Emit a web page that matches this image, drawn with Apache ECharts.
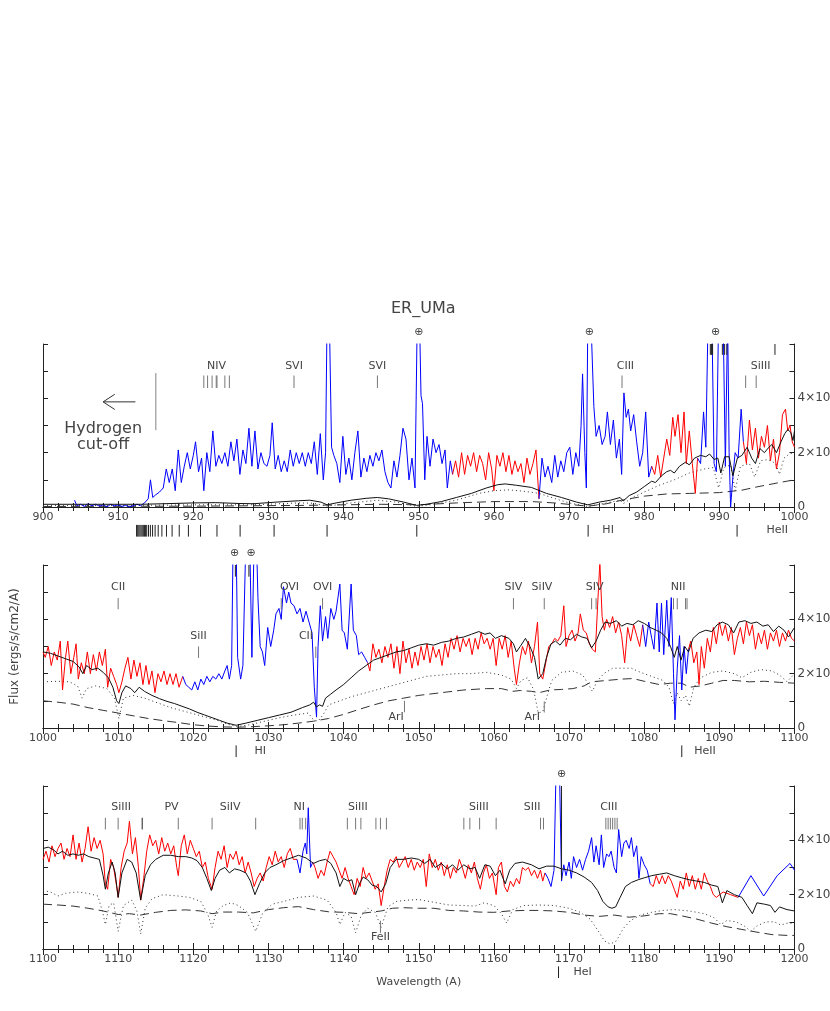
<!DOCTYPE html>
<html>
<head>
<meta charset="utf-8">
<title>ER_UMa</title>
<script src="https://cdn.jsdelivr.net/npm/echarts/dist/echarts.min.js"></script>
<style>
  html, body { margin: 0; padding: 0; background: #fff; }
  #chart { width: 830px; height: 1011px; }
</style>
</head>
<body>
<div id="chart"></div>
<script>
// flux in units of 1e-14 ergs/s/cm2/A, wavelength in A

// ---------- panel 1 : 900-1000 ----------
const topObs = [
  [904.2,0.25],[904.5,0.05],[905,0.1],[905.5,0.02],[906,0.12],[906.5,0.05],[907,0.1],[907.5,0.03],[908,0.08],[908.5,0.0],
  [909,0.1],[909.5,0.04],[910,0.08],[910.5,0.02],[911,0.06],[911.5,0.0],[912,0.05],[912.5,0.1],[913,0.05],[913.5,0.15],
  [914,0.3],[914.3,1.0],[914.6,0.35],[915,0.45],[915.5,0.55],[916,0.7],[916.4,1.4],[916.8,0.9],[917.2,1.4],[917.6,0.6],
  [918,2.1],[918.4,0.9],[918.8,1.5],[919.2,2.0],[919.6,1.4],[920,1.9],[920.3,2.4],[920.7,1.3],[921.1,1.8],[921.4,0.6],
  [921.8,2.0],[922.2,1.3],[922.6,2.8],[923,1.5],[923.4,1.9],[923.8,1.6],[924.2,2.0],[924.6,1.5],[925,2.4],[925.4,1.7],
  [925.8,2.5],[926.2,1.2],[926.6,2.1],[927,1.6],[927.4,2.9],[927.8,1.5],[928.2,2.8],[928.6,1.4],[929,2.0],[929.4,1.6],
  [929.8,1.5],[930.2,1.9],[930.5,3.1],[930.9,1.4],[931.3,1.9],[931.7,1.3],[932.1,1.7],[932.5,1.3],[932.9,2.1],[933.3,1.5],
  [933.7,2.0],[934.1,1.6],[934.5,2.0],[934.9,1.5],[935.3,2.0],[935.7,1.6],[936.1,2.4],[936.5,1.2],[936.9,2.7],[937.3,1.0],
  [937.6,2.0],[937.8,7],[938.1,7],[938.4,2.2],[938.7,1.9],[939.1,1.6],[939.5,0.9],[939.9,2.6],[940.3,1.2],[940.7,1.8],
  [941.1,1.0],[941.5,2.0],[941.9,2.8],[942.3,1.1],[942.7,1.8],[943.1,1.3],[943.5,1.9],[943.9,1.5],[944.3,2.0],[944.7,1.7],
  [945.1,2.1],[945.5,1.3],[945.9,0.9],[946.3,0.7],[946.7,1.7],[947.1,1.1],[947.5,1.9],[947.9,2.9],[948.3,2.5],[948.7,1.0],
  [949.1,1.8],[949.5,0.7],[949.8,7],[950.1,7],[950.3,4.1],[950.5,3.8],[950.8,1.0],[951.1,2.6],[951.5,1.5],[951.9,2.5],
  [952.3,2.0],[952.7,2.3],[953.1,1.6],[953.5,2.1],[953.8,0.7],[954.2,1.7],[954.5,1.2],
  [954.9,1.7],[955.3,1.1],[955.7,2.0],[956.1,1.2],[956.5,1.9],[956.9,1.5],[957.3,2.0],[957.7,1.3],[958.1,1.9],[958.5,1.6],
  [958.9,1.0],[959.3,2.0],[959.7,1.4],[960,0.6],[960.4,1.9],[960.8,1.5],[961.2,2.0],[961.6,1.3],[962,1.9],[962.4,1.2],
  [962.8,1.7],[963.2,1.3],[963.6,1.6],[964,0.9],[964.4,1.8],[964.8,1.2],[965.2,1.6],[965.6,2.1],[966,0.3],
  [966.4,1.8],[966.8,1.1],[967.2,1.5],[967.7,0.9],[968.1,1.9],[968.5,1.1],[968.9,1.7],[969.3,1.3],[969.7,2.0],[970.1,2.2],
  [970.5,1.2],[970.9,2.0],[971.3,1.5],[971.6,3.0],[971.8,4.9],[972.1,2.0],[972.3,0.7],[972.5,7],[972.9,7],[973.3,3.7],
  [973.6,2.6],[974,3.0],[974.4,2.3],[974.8,2.6],[975.1,3.5],[975.5,2.3],[975.9,3.2],[976.3,1.8],[976.7,2.5],[977,1.2],
  [977.3,4.2],[977.6,3.3],[977.9,3.6],[978.2,2.8],[978.6,3.4],[979,2.4],[979.4,1.5],[979.8,2.0],[980.2,3.5],[980.6,1.1],
  [981,1.5],[981.4,1.2],[981.8,1.9],[982.2,1.1],[982.6,1.8],[983,2.5],[983.4,1.9],[983.8,3.3],[984.1,2.6],[984.5,3.4],
  [984.9,2.0],[985.3,3.5],[985.6,1.6],[986,2.8],[986.4,1.6],[986.8,0.5],[987.1,1.8],
  [987.5,1.6],[987.9,3.5],[988.2,2.2],[988.5,7],[989,7],[989.3,1.6],[989.6,1.3],[989.9,7],[990.5,7],[990.8,1.5],
  [991.1,7],[991.3,2.0],[991.5,0],[991.8,1.1],[992.1,2.0],[992.5,1.8],[992.9,3.6],[993.2,2.4],
  [993.6,1.6],[994,3.2],[994.4,2.1],[994.8,2.9],[995.2,1.8],[995.6,2.6],[996,2.2],[996.4,3.0],[996.8,1.7],[997.2,2.5],
  [997.6,1.4],[998,2.0],[998.4,3.4],[998.8,3.6],[999.1,2.8],[999.4,3.0],[999.7,2.4],[1000,2.2]
];
const topBlueRanges = [[900, 954.5], [966, 981], [987.1, 993.2]];
const topModel = [
  [900,0.1],[905,0.1],[910,0.1],[913,0.1],[916,0.12],[920,0.15],[923,0.16],[926,0.13],[928,0.12],[931,0.18],
  [934,0.23],[935.5,0.25],[937,0.18],[937.8,0.08],[939,0.15],[941,0.25],[943,0.32],[944.5,0.35],[946,0.3],[948,0.18],
  [949.7,0.06],[951,0.1],[953,0.2],[955,0.35],[957,0.5],[959,0.7],[960.5,0.82],[961.5,0.85],[963,0.8],[965,0.72],
  [967,0.5],[969,0.35],[971,0.18],[972.5,0.08],[974,0.18],[975.5,0.25],[976.8,0.35],[977.2,0.22],[978,0.42],[979,0.55],
  [980,0.75],[981,0.95],[981.5,0.9],[982.3,1.15],[983,1.3],[983.5,1.35],[984,1.25],[984.7,1.5],[985.5,1.65],[986,1.55],
  [986.7,1.8],[987.5,1.9],[988.2,1.85],[988.7,1.95],[989.3,1.75],[989.8,1.8],[990.2,1.25],[990.7,1.85],[991.3,1.85],[991.8,1.15],
  [992.4,1.8],[993,1.9],[993.7,2.2],[994.3,1.8],[994.8,1.6],[995.4,2.15],[996,2.0],[996.6,2.2],[997,2.3],[997.6,2.0],
  [998.2,2.4],[998.7,2.7],[999.1,2.85],[999.5,2.75],[999.8,2.45],[1000,2.8]
];
const topDotted = [
  [900,0.05],[910,0.05],[920,0.08],[928,0.08],[934,0.15],[936,0.14],[937.8,0.03],[941,0.15],[944.5,0.25],[947,0.18],
  [949.7,0.02],[952,0.1],[955,0.25],[958,0.5],[960,0.6],[962,0.63],[964,0.58],[966,0.5],[968,0.32],[970,0.15],
  [972.5,0.02],[975,0.15],[976.8,0.25],[977.2,0.12],[978.5,0.35],[980,0.55],[982,0.8],[984,1.0],[986,1.25],[988,1.4],
  [989.2,1.45],[989.9,0.7],[990.6,1.45],[991.5,1.55],[992.1,0.6],[992.8,1.5],[994,1.6],[994.7,1.1],[995.5,1.7],[996.5,1.75],
  [997.5,1.6],[998,1.2],[998.6,1.8],[999.3,1.95],[1000,2.0]
];
const topDashed = [
  [900,0.02],[920,0.03],[935,0.06],[945,0.1],[950,0.08],[955,0.15],[960,0.2],[965,0.2],[968,0.15],[972.5,0.03],
  [975,0.12],[977,0.25],[980,0.4],[983,0.48],[986,0.5],[990,0.53],[993,0.62],[995,0.74],[998,0.9],[1000,1.0]
];
const topIdTicks = [
  [921.4,4.38,4.84],[921.9,4.38,4.84],[922.5,4.38,4.84],[923.05,4.38,4.84],[923.15,4.38,4.84],[924.2,4.38,4.84],[924.8,4.38,4.84],
  [933.4,4.38,4.84],[944.5,4.38,4.84],[977.05,4.38,4.84],[993.5,4.38,4.84],[994.9,4.38,4.84]
];
const topMarkTicks = [
  [988.8,6,5.6],[988.95,6,5.6],[989.1,6,5.6],[990.4,6,5.6],[990.7,6,5.6],[991.0,6,5.6],[997.4,6,5.6],
  [912.45,-0.66,-1.09],[912.6,-0.66,-1.09],[912.75,-0.66,-1.09],[912.9,-0.66,-1.09],[913.05,-0.66,-1.09],[913.2,-0.66,-1.09],
  [913.35,-0.66,-1.09],[913.5,-0.66,-1.09],[913.65,-0.66,-1.09],[913.8,-0.66,-1.09],[914.04,-0.66,-1.09],[914.29,-0.66,-1.09],
  [914.58,-0.66,-1.09],[914.92,-0.66,-1.09],[915.33,-0.66,-1.09],[915.82,-0.66,-1.09],[916.43,-0.66,-1.09],[917.18,-0.66,-1.09],
  [918.13,-0.66,-1.09],[919.35,-0.66,-1.09],[920.96,-0.66,-1.09],[923.15,-0.66,-1.09],[926.23,-0.66,-1.09],[930.75,-0.66,-1.09],
  [937.8,-0.66,-1.09],[949.74,-0.66,-1.09],[972.54,-0.66,-1.09],[992.36,-0.66,-1.09]
];
const topArrow = [[912.3,3.87,908.0,3.87],[908.0,3.87,909.55,4.15],[908.0,3.87,909.55,3.59]];
const topCutoff = [[915.0,2.83,4.93]];
const topLabels = [
  [923.1,5.2,'NIV'],[933.4,5.2,'SVI'],[944.5,5.2,'SVI'],[977.5,5.2,'CIII'],[995.5,5.2,'SiIII'],
  [950.0,6.43,'⊕'],[972.7,6.43,'⊕'],[989.5,6.43,'⊕'],
  [975.2,-0.87,'HI'],[997.7,-0.87,'HeII']
];
const topBigLabels = [[908.0,2.87,'Hydrogen'],[908.0,2.28,'cut-off']];

// ---------- panel 2 : 1000-1100 ----------
const midObs = [
  [1000,2.8],[1000.3,2.6],[1000.7,3.0],[1001.1,2.3],[1001.5,2.8],[1001.9,2.5],[1002.3,3.2],[1002.6,1.4],[1003,2.6],[1003.3,3.2],
  [1003.7,2.0],[1004.1,2.6],[1004.4,3.1],[1004.7,1.8],[1005.1,2.4],[1005.5,2.0],[1005.9,2.8],[1006.3,2.0],[1006.7,2.7],[1007.1,2.1],
  [1007.5,2.8],[1007.9,2.3],[1008.3,2.9],[1008.6,1.5],[1009,2.2],[1009.4,1.9],[1009.8,1.6],[1010.1,1.3],[1010.5,1.7],[1010.9,2.2],
  [1011.3,2.6],[1011.7,1.8],[1012.1,2.5],[1012.5,1.9],[1012.9,2.4],[1013.3,1.6],[1013.7,2.3],[1014.1,1.6],[1014.5,2.1],[1014.9,1.3],
  [1015.3,2.0],[1015.7,1.7],[1016.1,2.1],[1016.5,1.6],[1016.9,2.0],[1017.3,1.6],[1017.7,2.0],[1018.1,1.5],[1018.6,1.9],
  [1019,1.6],[1019.4,1.5],[1019.8,1.4],[1020.2,1.7],[1020.6,1.4],[1021,1.8],[1021.4,1.6],[1021.8,1.9],[1022.2,1.7],[1022.6,1.9],
  [1023,1.8],[1023.4,2.0],[1023.8,1.8],[1024.2,2.1],[1024.5,2.3],[1024.8,1.8],[1025.1,2.3],[1025.3,7],[1025.7,7],[1025.9,2.6],
  [1026.3,1.8],[1026.6,2.3],[1027,7],[1027.5,7],[1027.8,2.6],[1028.1,7],[1028.4,7],[1028.6,4.8],[1028.9,3.0],[1029.2,2.8],
  [1029.5,2.3],[1029.9,3.7],[1030.3,3.0],[1030.7,3.6],[1031,4.2],[1031.4,4.4],[1031.7,4.0],[1032,5.2],[1032.4,4.6],[1032.7,5.0],
  [1033,4.6],[1033.4,4.5],[1033.8,4.2],[1034.2,4.4],[1034.6,3.9],[1035,4.3],[1035.4,3.9],[1035.8,3.5],[1036.1,1.5],[1036.4,0.4],
  [1036.6,3.0],[1036.9,4.5],[1037.2,3.2],[1037.6,4.1],[1037.9,3.3],[1038.3,4.4],[1038.7,4.0],[1039,4.3],[1039.5,5.3],[1039.8,3.6],
  [1040.1,3.5],[1040.5,2.9],[1041,5.3],[1041.3,3.6],[1041.7,3.4],[1042,2.7],[1042.4,2.8],[1042.8,2.6],[1043.2,2.4],
  [1043.5,2.1],[1043.9,3.1],[1044.3,2.6],[1044.7,2.9],[1045.1,2.4],[1045.5,3.0],[1045.9,2.6],[1046.3,3.1],[1046.7,2.2],[1047.1,3.0],
  [1047.5,2.0],[1047.9,3.2],[1048.3,2.4],[1048.7,2.9],[1049.1,2.2],[1049.5,2.8],[1049.9,2.3],[1050.3,3.0],[1050.7,2.5],[1051.1,3.1],
  [1051.5,2.4],[1051.9,3.0],[1052.3,2.6],[1052.7,2.9],[1053.1,2.3],[1053.5,3.1],[1053.9,2.6],[1054.3,3.3],[1054.7,2.9],[1055.1,3.4],
  [1055.5,2.8],[1055.9,3.3],[1056.3,3.0],[1056.7,3.3],[1057.1,2.7],[1057.5,3.3],[1057.9,2.9],[1058.3,3.5],[1058.7,3.1],[1059.1,3.3],
  [1059.5,2.9],[1059.9,3.3],[1060.3,2.3],[1060.7,3.3],[1061.1,2.9],[1061.5,3.4],[1061.9,2.6],[1062.3,3.2],[1062.7,2.2],[1063,1.6],
  [1063.4,2.4],[1063.8,3.0],[1064.2,2.7],[1064.6,3.2],[1065,2.4],[1065.4,3.0],[1065.8,3.9],[1066.1,2.0],[1066.5,1.8],[1066.9,2.4],
  [1067.3,3.0],[1067.7,3.1],[1068.1,3.3],[1068.5,3.2],[1068.9,3.4],[1069.3,4.5],[1069.6,3.0],[1070,3.4],[1070.4,3.6],[1070.8,3.2],
  [1071.2,3.5],[1071.5,4.2],[1071.9,3.6],[1072.3,3.5],[1072.7,3.1],[1073.1,2.9],[1073.5,2.8],[1073.8,4.5],[1074.1,6.1],[1074.4,4.1],
  [1074.7,3.6],[1075,4.0],[1075.4,3.7],[1075.8,4.1],[1076.2,3.5],[1076.6,3.9],[1077,3.4],[1077.4,2.4],[1077.8,3.7],[1078.2,3.2],
  [1078.6,3.8],[1079,3.4],[1079.4,3.0],[1079.8,3.8],
  [1080.2,3.0],[1080.6,3.9],[1081,3.3],[1081.3,2.9],[1081.7,4.6],[1082,2.8],[1082.3,4.6],[1082.6,2.7],[1083,4.7],[1083.3,3.0],
  [1083.6,4.8],[1083.9,2.0],[1084.1,0.3],[1084.4,2.2],[1084.7,3.4],[1085,1.4],[1085.3,3.0],[1085.6,2.0],[1085.9,2.9],
  [1086.2,3.2],[1086.6,2.4],[1087,2.8],[1087.3,1.6],[1087.6,3.0],[1088,2.2],[1088.4,3.3],[1088.8,2.8],[1089.2,3.7],[1089.6,3.1],
  [1090,3.9],[1090.4,3.4],[1090.8,3.8],[1091.2,3.2],[1091.6,3.7],[1092,2.7],[1092.4,3.3],[1092.8,3.7],[1093.2,3.1],[1093.6,3.9],
  [1094,3.4],[1094.4,3.8],[1094.8,2.9],[1095.2,3.5],[1095.6,3.1],[1096,3.6],[1096.4,2.9],[1096.8,3.5],[1097.2,3.2],[1097.6,3.6],
  [1098,3.0],[1098.4,3.5],[1098.8,3.2],[1099.2,3.6],[1099.6,3.3],[1100,3.2]
];
const midBlueRanges = [[1018.6, 1043.2], [1079.8, 1085.9]];
const midModel = [
  [1000,2.8],[1001,2.75],[1002,2.65],[1003,2.55],[1004,2.45],[1004.8,2.25],[1005.3,2.0],[1005.8,2.3],[1006.5,2.15],[1007.3,2.2],
  [1008,2.05],[1008.7,1.85],[1009.3,1.5],[1009.8,1.0],[1010.1,0.9],[1010.5,1.3],[1011,1.55],[1011.7,1.45],[1012.2,1.3],[1012.8,1.5],
  [1013.5,1.35],[1014.5,1.2],[1015.5,1.08],[1016.5,0.98],[1017.5,0.9],[1018.5,0.8],[1019.5,0.7],[1020.5,0.58],[1021.5,0.48],[1022.5,0.38],
  [1023.5,0.28],[1024.5,0.18],[1025.7,0.1],[1027,0.18],[1028.5,0.28],[1030,0.38],[1031.5,0.48],[1033,0.58],[1034.5,0.75],[1035.5,0.85],
  [1036,0.95],[1036.4,0.78],[1036.8,0.85],[1037.2,0.8],[1037.6,1.1],[1038.3,1.25],[1039,1.4],[1040,1.6],[1041,1.85],[1042,2.1],
  [1043,2.3],[1044,2.5],[1045,2.6],[1046,2.7],[1047,2.8],[1048,2.85],[1049,2.95],[1050,3.05],[1051,3.1],[1052,3.05],
  [1053,3.15],[1054,3.2],[1055,3.3],[1056,3.35],[1057,3.45],[1058,3.55],[1058.8,3.45],[1059.5,3.5],[1060.2,3.3],[1061,3.4],
  [1062,3.3],[1062.6,3.1],[1063,2.8],[1063.5,3.0],[1064.2,3.3],[1064.8,3.0],[1065.4,2.6],[1065.9,1.8],[1066.5,2.0],[1067,2.6],
  [1067.6,3.1],[1068.2,3.2],[1068.8,3.05],[1069.5,3.3],[1070.2,3.25],[1071,3.45],[1071.7,3.35],[1072.4,3.3],[1073,2.95],[1073.6,3.2],
  [1074.2,3.6],[1074.8,3.9],[1075.5,3.85],[1076.3,3.95],[1077,3.75],[1077.7,3.85],[1078.5,3.8],[1079.2,3.95],[1080,3.85],[1080.8,3.7],
  [1081.6,3.6],[1082.3,3.5],[1083,3.3],[1083.5,3.0],[1084,2.6],[1084.4,3.0],[1084.9,2.5],[1085.4,3.0],[1085.9,2.8],[1086.5,3.3],
  [1087.3,3.5],[1088.2,3.6],[1089,3.55],[1089.7,3.8],[1090.4,3.9],[1091.2,3.8],[1091.9,3.5],[1092.6,3.9],[1093.4,3.95],[1094.2,3.85],
  [1095,3.9],[1095.8,3.75],[1096.5,3.8],[1097.2,3.55],[1097.9,3.75],[1098.6,3.6],[1099.2,3.35],[1100,3.7]
];
const midDotted = [
  [1000,1.7],[1002,1.72],[1003.5,1.7],[1004.6,1.55],[1005.2,1.1],[1005.8,1.45],[1007,1.55],[1008.5,1.45],[1009.5,1.1],[1010.1,0.35],
  [1010.7,1.1],[1012,1.2],[1013.5,1.1],[1015,0.95],[1017,0.75],[1019,0.6],[1021,0.45],[1023,0.3],[1024.5,0.15],[1025.8,0.05],
  [1027.5,0.12],[1029.5,0.25],[1031.5,0.38],[1033.5,0.48],[1035.3,0.55],[1036,0.3],[1036.6,0.25],[1037.3,0.5],[1038,0.85],[1039.5,1.0],
  [1041,1.15],[1043,1.3],[1045,1.45],[1047,1.6],[1049,1.75],[1051,1.9],[1053,1.95],[1055,2.0],[1057,2.0],[1059,2.05],
  [1061,1.95],[1062.3,1.8],[1063,1.45],[1063.6,1.75],[1064.5,1.85],[1065.3,1.4],[1065.9,0.55],[1066.5,0.6],[1067.1,1.2],[1067.7,1.75],
  [1069,2.05],[1070.5,2.1],[1071.8,1.95],[1072.6,1.6],[1073.1,1.35],[1073.7,1.7],[1074.6,2.0],[1075.8,2.2],[1077,2.2],[1078.3,2.2],
  [1079.5,2.05],[1081,1.9],[1082.5,1.75],[1083.3,1.5],[1083.9,0.9],[1084.4,1.3],[1084.9,1.0],[1085.5,1.2],[1086,0.8],[1086.6,1.5],
  [1087.5,1.85],[1089,2.05],[1090.5,2.1],[1092,2.0],[1093,1.85],[1094.2,2.05],[1095.5,2.15],[1097,2.1],[1098,1.95],[1099,1.7],
  [1099.5,1.85],[1100,2.0]
];
const midDashed = [
  [1000,1.0],[1002,0.95],[1004,0.88],[1006,0.75],[1008,0.65],[1010,0.55],[1012,0.45],[1014,0.35],[1016,0.27],[1018,0.2],
  [1020,0.12],[1022,0.07],[1024,0.04],[1026,0.03],[1028,0.05],[1030,0.08],[1032,0.12],[1034,0.18],[1036,0.25],[1038,0.35],
  [1040,0.5],[1042,0.68],[1044,0.85],[1046,1.0],[1048,1.1],[1050,1.2],[1053,1.3],[1056,1.4],[1059,1.45],[1061,1.45],
  [1062.5,1.35],[1063.5,1.38],[1065,1.35],[1066,1.3],[1067.5,1.4],[1069,1.42],[1070.5,1.45],[1072,1.55],[1073,1.7],[1075,1.75],
  [1077,1.8],[1078.5,1.82],[1080,1.72],[1082,1.6],[1083.5,1.65],[1085,1.65],[1086,1.5],[1087.5,1.55],[1089,1.65],[1090.5,1.75],
  [1092,1.75],[1094,1.7],[1096,1.72],[1098,1.68],[1100,1.65]
];
const midIdTicks = [
  [1010.0,4.37,4.78],[1031.7,4.37,4.78],[1037.2,4.37,4.78],[1062.6,4.37,4.78],[1066.7,4.37,4.78],
  [1073.0,4.37,4.78],[1073.6,4.37,4.78],[1083.9,4.37,4.78],[1084.4,4.37,4.78],[1085.5,4.37,4.78],[1085.7,4.37,4.78],
  [1020.7,2.58,3.0],[1036.3,2.58,3.0],
  [1048.1,0.58,1.0],[1066.7,0.57,0.98]
];
const midMarkTicks = [
  [1025.6,6,5.57],[1027.4,6,5.57],
  [1025.7,-0.64,-1.07],[1085.0,-0.64,-1.07]
];
const midLabels = [
  [1010.0,5.19,'CII'],[1020.7,3.39,'SiII'],[1032.8,5.19,'OVI'],[1037.2,5.19,'OVI'],[1035.0,3.39,'CII'],
  [1047.0,0.4,'ArI'],[1065.1,0.4,'ArI'],[1062.6,5.19,'SIV'],[1066.4,5.19,'SiIV'],[1073.4,5.19,'SIV'],[1084.5,5.19,'NII'],
  [1025.5,6.43,'⊕'],[1027.7,6.43,'⊕'],
  [1028.9,-0.87,'HI'],[1088.1,-0.87,'HeII']
];

// ---------- panel 3 : 1100-1200 ----------
const botObs = [
  [1100,3.3],[1100.4,3.6],[1100.8,3.2],[1101.2,3.8],[1101.6,3.4],[1102,3.7],[1102.4,3.9],[1102.8,3.3],[1103.2,3.7],[1103.6,3.4],
  [1104,4.2],[1104.4,3.3],[1104.8,3.9],[1105.2,3.2],[1105.6,3.7],[1106,4.5],[1106.4,3.6],[1106.8,4.1],[1107.2,3.7],[1107.6,4.0],
  [1108,3.5],[1108.3,2.4],[1108.6,2.2],[1109,3.3],[1109.4,3.0],[1109.8,2.3],[1110,1.9],[1110.4,3.0],[1110.8,3.6],[1111.2,3.9],
  [1111.5,4.7],[1111.9,3.5],[1112.3,4.1],[1112.7,3.0],[1113,1.8],[1113.4,2.6],[1113.8,3.6],[1114.2,4.2],[1114.6,3.8],[1115,4.0],
  [1115.4,3.5],[1115.8,4.1],[1116.2,3.6],[1116.6,3.9],[1117,3.5],[1117.4,3.8],[1117.8,3.0],[1118,2.7],[1118.4,3.8],[1118.8,4.2],
  [1119.2,3.5],[1119.6,4.0],[1120,3.7],[1120.4,3.4],[1120.8,3.6],[1121.2,3.0],[1121.6,3.2],[1122,2.6],[1122.5,2.2],[1122.9,3.0],
  [1123.3,3.6],[1123.7,3.3],[1124.1,3.8],[1124.5,3.0],[1124.9,3.5],[1125.3,3.3],[1125.7,3.6],[1126.1,3.1],[1126.5,3.4],[1126.9,2.8],
  [1127.3,3.2],[1127.7,2.8],[1128.1,2.3],[1128.5,2.6],[1128.9,2.8],[1129.3,2.5],[1129.7,3.0],[1130.1,3.4],[1130.5,3.1],[1130.9,3.6],
  [1131.3,3.2],[1131.7,3.4],[1132.1,3.0],[1132.5,3.5],[1132.9,3.7],[1133.3,3.3],[1133.8,3.3],
  [1134.2,2.8],[1134.6,3.6],[1134.9,3.9],[1135.1,3.5],[1135.3,5.2],[1135.6,3.0],[1135.9,3.2],
  [1136.2,3.0],[1136.6,2.6],[1137,2.9],[1137.4,2.7],[1137.8,3.2],[1138.2,3.6],[1138.6,3.4],[1139,3.2],[1139.4,2.9],[1139.8,2.6],
  [1140.2,3.0],[1140.6,2.6],[1141,2.3],[1141.4,2.0],[1141.8,2.6],[1142.2,2.3],[1142.6,3.0],[1143,2.6],[1143.4,2.8],[1143.8,2.5],
  [1144.2,2.2],[1144.6,2.4],[1145,1.6],[1145.4,2.3],[1145.8,2.9],[1146.2,3.3],[1146.6,3.2],[1147,3.4],[1147.4,3.0],[1147.8,3.2],
  [1148.2,3.4],[1148.6,3.0],[1149,3.3],[1149.4,2.9],[1149.8,3.2],[1150.2,3.0],[1150.6,3.3],[1151,2.3],[1151.4,3.5],[1151.8,3.0],
  [1152.2,3.3],[1152.6,2.9],[1153,3.2],[1153.4,2.7],[1153.8,3.1],[1154.2,2.6],[1154.6,3.0],[1155,2.8],[1155.4,3.3],[1155.8,3.0],
  [1156.2,2.6],[1156.6,3.1],[1157,2.8],[1157.4,3.2],[1157.8,2.6],[1158.2,2.2],[1158.6,2.8],[1159,3.1],[1159.4,2.6],[1159.8,2.8],
  [1160.3,2.0],[1160.6,3.0],[1161,3.2],[1161.4,2.3],[1161.8,2.1],[1162.2,2.5],[1162.6,2.3],[1163,2.6],[1163.4,2.4],[1163.8,3.0],
  [1164.2,2.9],[1164.6,3.0],[1165,2.7],[1165.4,2.9],[1165.8,2.6],[1166.2,2.9],[1166.5,2.5],[1166.8,2.8],
  [1167.2,2.6],[1167.6,2.3],[1168,2.9],[1168.3,7],[1168.7,7],[1169,2.5],[1169.3,3.1],[1169.6,2.7],[1170,3.2],[1170.3,2.6],
  [1170.6,3.4],[1171,3.0],[1171.4,3.3],[1171.8,2.9],[1172.2,3.3],[1172.6,3.6],[1173,4.1],[1173.3,3.2],[1173.6,3.8],[1174,3.1],
  [1174.3,4.2],[1174.6,3.0],[1175,3.5],[1175.3,3.4],[1175.6,3.6],[1176,3.0],[1176.3,2.8],[1176.6,4.4],[1177,3.4],[1177.3,3.9],
  [1177.6,4.0],[1178,3.7],[1178.3,4.1],[1178.6,3.4],[1179,3.8],[1179.3,2.6],[1179.6,3.4],[1180,3.1],[1180.4,2.9],[1180.8,2.4],
  [1181.2,2.3],[1181.6,2.7],[1182,2.4],[1182.4,2.7],[1182.8,2.4],[1183.2,2.7],[1183.6,2.5],[1184,2.2],[1184.4,1.9],[1184.8,2.5],
  [1185.2,2.2],[1185.6,2.8],[1186,2.3],[1186.4,2.7],[1186.8,2.2],[1187.2,2.6],[1187.6,2.2],[1188,2.8],[1188.4,2.5],[1188.8,2.3],
  [1189.2,2.0],[1189.6,1.9],[1190.5,2.1],[1191.5,2.0],[1192.5,1.9],
  [1194.2,2.7],[1195.9,1.95],[1197.7,2.7],[1199.4,3.15],[1200,2.9]
];
const botBlueRanges = [[1133.8, 1135.9], [1166.8, 1180.8], [1192.5, 1200]];
const botModel = [
  [1100,3.7],[1100.7,3.75],[1101.4,3.65],[1102,3.5],[1102.6,3.6],[1103.3,3.45],[1104,3.5],[1104.7,3.45],[1105.4,3.5],[1106.1,3.4],
  [1106.8,3.35],[1107.5,3.3],[1108,2.7],[1108.3,2.2],[1108.7,2.8],[1109.2,3.2],[1109.6,2.8],[1110,1.9],[1110.5,2.8],[1111.2,3.3],
  [1111.8,3.2],[1112.4,2.8],[1113,1.8],[1113.6,2.7],[1114.3,3.1],[1115,3.3],[1116,3.45],[1117,3.45],[1118,3.4],[1119,3.4],
  [1119.8,3.35],[1120.5,3.25],[1121.2,3.0],[1121.8,2.6],[1122.4,2.15],[1122.9,2.6],[1123.5,2.9],[1124.2,3.0],[1124.8,2.8],[1125.5,2.95],
  [1126.2,2.9],[1127,2.8],[1127.6,2.5],[1128.2,2.0],[1128.8,2.4],[1129.5,2.8],[1130.2,3.0],[1131,3.1],[1132,3.25],[1133,3.35],
  [1134,3.45],[1135,3.35],[1136,3.15],[1136.8,3.25],[1137.6,3.3],[1138.3,3.15],[1139,2.8],[1139.5,2.3],[1140,2.6],[1140.6,2.5],
  [1141.1,2.55],[1141.6,2.0],[1142.1,2.4],[1142.6,2.65],[1143.2,2.55],[1143.8,2.35],[1144.4,2.3],[1145,2.1],[1145.6,2.4],[1146.2,3.0],
  [1147,3.3],[1148,3.3],[1149,3.35],[1150,3.3],[1150.8,3.15],[1151.5,3.3],[1152.2,3.0],[1153,3.15],[1153.8,2.95],[1154.5,3.1],
  [1155.2,2.9],[1156,3.1],[1156.8,2.95],[1157.5,3.0],[1158.1,2.6],[1158.8,3.1],[1159.5,3.05],[1160.2,2.7],[1160.8,2.9],[1161.5,2.4],
  [1162.1,2.9],[1162.8,3.15],[1163.8,3.2],[1165,3.1],[1166,2.95],[1167,3.05],[1168,3.05],[1169,2.95],[1170,2.9],[1171,2.8],
  [1172,2.65],[1173,2.45],[1173.8,2.15],[1174.5,1.75],[1175.2,1.55],[1175.7,1.5],[1176.2,1.55],[1176.8,1.9],[1177.5,2.3],[1178.3,2.45],
  [1179.2,2.55],[1180,2.62],[1181,2.7],[1182,2.75],[1183,2.8],[1184,2.7],[1185,2.62],[1186,2.55],[1187,2.5],[1188,2.45],
  [1189,2.35],[1189.8,2.3],[1190.4,1.7],[1191,2.15],[1192,2.0],[1193,1.9],[1193.7,1.6],[1194.4,1.3],[1195,1.7],[1196,1.65],
  [1196.8,1.6],[1197.4,1.35],[1198,1.55],[1199,1.45],[1200,1.4]
];
const botDotted = [
  [1100,2.15],[1101,2.1],[1102,1.95],[1103,2.05],[1104.5,2.1],[1106,2.05],[1107.3,1.95],[1107.9,1.4],[1108.3,0.9],[1108.8,1.6],
  [1109.4,1.7],[1110,0.65],[1110.7,1.6],[1111.8,1.8],[1112.5,1.4],[1113,0.55],[1113.6,1.5],[1114.5,1.85],[1116,2.0],[1118,1.95],
  [1119.5,1.9],[1121,1.75],[1121.9,1.3],[1122.5,0.8],[1123.1,1.4],[1124,1.6],[1125,1.7],[1126,1.6],[1127.2,1.35],[1128.3,0.65],
  [1129.2,1.3],[1130.5,1.65],[1132,1.75],[1134,1.9],[1136,1.95],[1137.8,1.8],[1139,1.35],[1139.5,0.9],[1140.2,1.35],[1141,1.2],
  [1141.6,0.6],[1142.3,1.2],[1143.2,1.5],[1144.2,1.35],[1145,0.8],[1145.9,1.55],[1147,1.75],[1148.5,1.8],[1150,1.82],[1152,1.72],
  [1154,1.62],[1156,1.6],[1157.5,1.58],[1158.7,1.7],[1160,1.6],[1161,1.3],[1161.7,0.95],[1162.5,1.45],[1164,1.6],[1166,1.62],
  [1168,1.6],[1170,1.5],[1171.5,1.35],[1172.8,1.1],[1173.8,0.7],[1174.7,0.3],[1175.5,0.18],[1176.3,0.3],[1177.2,0.75],[1178.2,1.05],
  [1179.5,1.25],[1181,1.35],[1182.5,1.42],[1184,1.45],[1186,1.4],[1188,1.3],[1189.3,1.15],[1190.2,0.9],[1191,1.05],[1192.2,1.0],
  [1193.3,0.85],[1194.2,0.65],[1195,0.85],[1196.2,1.0],[1197.3,1.0],[1198.2,0.88],[1199,0.95],[1200,0.95]
];
const botDashed = [
  [1100,1.65],[1102,1.62],[1104,1.58],[1106,1.5],[1108,1.4],[1110,1.27],[1111.5,1.3],[1113,1.25],[1115,1.35],[1117,1.42],
  [1119,1.44],[1121,1.4],[1122.5,1.3],[1124,1.36],[1126,1.36],[1128,1.33],[1130,1.45],[1132,1.52],[1134,1.56],[1136,1.45],
  [1138,1.37],[1140,1.35],[1142,1.3],[1143.5,1.35],[1145,1.4],[1146.5,1.5],[1148,1.52],[1150,1.5],[1152,1.5],[1154,1.42],
  [1156,1.4],[1158,1.36],[1160,1.35],[1162,1.4],[1164,1.42],[1166,1.42],[1168,1.4],[1170,1.35],[1172,1.25],[1174,1.2],
  [1176,1.25],[1178,1.17],[1180,1.22],[1182,1.3],[1183.5,1.3],[1185,1.22],[1187,1.1],[1189,0.95],[1191,0.82],[1193,0.72],
  [1195,0.62],[1197,0.53],[1199,0.5],[1200,0.5]
];
const botIdTicks = [
  [1108.3,4.4,4.83],[1110.0,4.4,4.83],[1118.0,4.4,4.83],[1122.5,4.4,4.83],[1128.3,4.4,4.83],
  [1134.2,4.4,4.83],[1134.5,4.4,4.83],[1134.95,4.4,4.83],[1140.5,4.4,4.83],[1141.6,4.4,4.83],[1142.3,4.4,4.83],
  [1144.3,4.4,4.83],[1144.9,4.4,4.83],[1145.7,4.4,4.83],[1156.0,4.4,4.83],[1156.8,4.4,4.83],[1158.1,4.4,4.83],[1160.3,4.4,4.83],
  [1166.2,4.4,4.83],[1166.6,4.4,4.83],[1174.9,4.4,4.83],[1175.2,4.4,4.83],[1175.5,4.4,4.83],[1175.8,4.4,4.83],[1176.1,4.4,4.83],[1176.4,4.4,4.83],
  [1144.9,0.59,1.04]
];
const botMarkTicks = [
  [1113.2,4.4,4.83],[1169.0,6,2.55],
  [1168.6,-0.64,-1.07]
];
const botLabels = [
  [1110.4,5.23,'SiIII'],[1117.1,5.23,'PV'],[1124.9,5.23,'SiIV'],[1134.1,5.23,'NI'],[1141.9,5.23,'SiIII'],
  [1158.0,5.23,'SiIII'],[1165.1,5.23,'SIII'],[1175.3,5.23,'CIII'],[1144.9,0.42,'FeII'],
  [1169.0,6.43,'⊕'],
  [1171.8,-0.87,'HeI']
];

const xRanges = [[900, 1000], [1000, 1100], [1100, 1200]];
const yTicks = [0, 2, 4];

// ---------- build ----------
const FONT = '"DejaVu Sans", sans-serif';
const TXT = '#444';
const RED = '#ff0000';
const BLUE = '#0000ff';
const gridTops = [344, 565, 786];

const chart = echarts.init(document.getElementById('chart'), null, { renderer: 'canvas' });

function inRanges(x, ranges) {
  return ranges.some(r => x >= r[0] && x <= r[1]);
}

// split observed spectrum into red/blue runs
function colourRuns(obs, blueRanges) {
  const runs = [];
  let cur = null;
  for (let i = 0; i < obs.length - 1; i++) {
    const mid = (obs[i][0] + obs[i + 1][0]) / 2;
    const c = inRanges(mid, blueRanges) ? BLUE : RED;
    if (!cur || cur.color !== c) {
      cur = { color: c, data: [obs[i]] };
      runs.push(cur);
    }
    cur.data.push(obs[i + 1]);
  }
  return runs;
}

function segSeries(idx, segs, color, width) {
  return {
    type: 'custom', xAxisIndex: idx * 2, yAxisIndex: idx * 2, clip: false, silent: true, z: 4,
    data: segs.map(s => [s[0], s[1]]),
    renderItem: (params, api) => {
      const s = segs[params.dataIndex];
      const p1 = api.coord([s[0], s[1]]);
      const p2 = s.length === 4 ? api.coord([s[2], s[3]]) : api.coord([s[0], s[2]]);
      return { type: 'line', shape: { x1: p1[0], y1: p1[1], x2: p2[0], y2: p2[1] },
               style: { stroke: color, lineWidth: width } };
    }
  };
}

function textSeries(idx, labels, size) {
  return {
    type: 'custom', xAxisIndex: idx * 2, yAxisIndex: idx * 2, clip: false, silent: true, z: 6,
    data: labels.map(l => [l[0], l[1]]),
    renderItem: (params, api) => {
      const l = labels[params.dataIndex];
      const p = api.coord([l[0], l[1]]);
      return { type: 'text', x: p[0], y: p[1],
               style: { text: l[2], fill: TXT, font: size + 'px ' + FONT, align: 'center', verticalAlign: 'middle' } };
    }
  };
}

function lineSeries(idx, data, color, type) {
  return {
    type: 'line', xAxisIndex: idx * 2, yAxisIndex: idx * 2, data: data,
    showSymbol: false, symbol: 'none', silent: true, clip: true, z: 3,
    lineStyle: { color: color, width: 1, type: type || 'solid' }
  };
}

const panels = [
  { obs: topObs, blue: topBlueRanges, model: topModel, dotted: topDotted, dashed: topDashed,
    idTicks: topIdTicks, markTicks: topMarkTicks, labels: topLabels },
  { obs: midObs, blue: midBlueRanges, model: midModel, dotted: midDotted, dashed: midDashed,
    idTicks: midIdTicks, markTicks: midMarkTicks, labels: midLabels },
  { obs: botObs, blue: botBlueRanges, model: botModel, dotted: botDotted, dashed: botDashed,
    idTicks: botIdTicks, markTicks: botMarkTicks, labels: botLabels }
];

const grid = [], xAxis = [], yAxis = [], series = [];
panels.forEach((p, i) => {
  grid.push({ left: 43, top: gridTops[i], width: 751.5, height: 163, containLabel: false, outerBoundsMode: 'none' });
  const axisLine = { show: true, lineStyle: { color: '#222', width: 1 } };
  const xBase = {
    type: 'value', gridIndex: i, min: xRanges[i][0], max: xRanges[i][1], interval: 10,
    axisLine: axisLine, splitLine: { show: false },
    axisTick: { inside: true, length: 6, lineStyle: { color: '#222' } },
    minorTick: { show: true, splitNumber: 5, length: 4, lineStyle: { color: '#222' } }
  };
  xAxis.push(Object.assign({}, xBase, {
    position: 'bottom',
    axisLabel: { color: TXT, fontSize: 11, fontFamily: FONT, margin: 5, formatter: v => String(v) },
    name: i === 2 ? 'Wavelength (A)' : '', nameLocation: 'middle', nameGap: 28,
    nameTextStyle: { color: TXT, fontSize: 11, fontFamily: FONT }
  }));
  xAxis.push(Object.assign({}, xBase, { position: 'top', axisLabel: { show: false } }));
  const yBase = {
    type: 'value', gridIndex: i, min: 0, max: 6, interval: 1,
    axisLine: axisLine, splitLine: { show: false },
    axisTick: { inside: true, length: 5, lineStyle: { color: '#222' } }
  };
  yAxis.push(Object.assign({}, yBase, {
    position: 'left', axisLabel: { show: false },
    name: i === 1 ? 'Flux (ergs/s/cm2/A)' : '', nameLocation: 'middle', nameGap: 22,
    nameTextStyle: { color: TXT, fontSize: 12, fontFamily: FONT }
  }));
  yAxis.push(Object.assign({}, yBase, {
    position: 'right',
    axisLabel: {
      color: TXT, fontSize: 12, fontFamily: FONT, margin: 3,
      formatter: v => yTicks.indexOf(v) < 0 ? '' : (v === 0 ? '0' : v + '×10{e|-14}'),
      rich: { e: { fontSize: 8, verticalAlign: 'top', color: TXT, fontFamily: FONT } }
    }
  }));

  series.push(lineSeries(i, p.dashed, '#333', [9, 5]));
  series.push(lineSeries(i, p.dotted, '#333', [1, 3]));
  colourRuns(p.obs, p.blue).forEach(r => series.push(lineSeries(i, r.data, r.color)));
  series.push(lineSeries(i, p.model, '#111'));
  series.push(segSeries(i, p.idTicks, '#777', 1));
  series.push(segSeries(i, p.markTicks, '#222', 1));
  series.push(textSeries(i, p.labels, 11));
});
series.push(segSeries(0, topArrow, '#333', 1));
series.push(segSeries(0, topCutoff, '#aaa', 1.5));
series.push(textSeries(0, topBigLabels, 16));

chart.setOption({
  backgroundColor: '#fff',
  animation: false,
  title: {
    text: 'ER_UMa', left: 386, top: 296,
    textStyle: { color: TXT, fontSize: 16, fontWeight: 'normal', fontFamily: FONT }
  },
  grid: grid,
  xAxis: xAxis,
  yAxis: yAxis,
  series: series
});
</script>
</body>
</html>
